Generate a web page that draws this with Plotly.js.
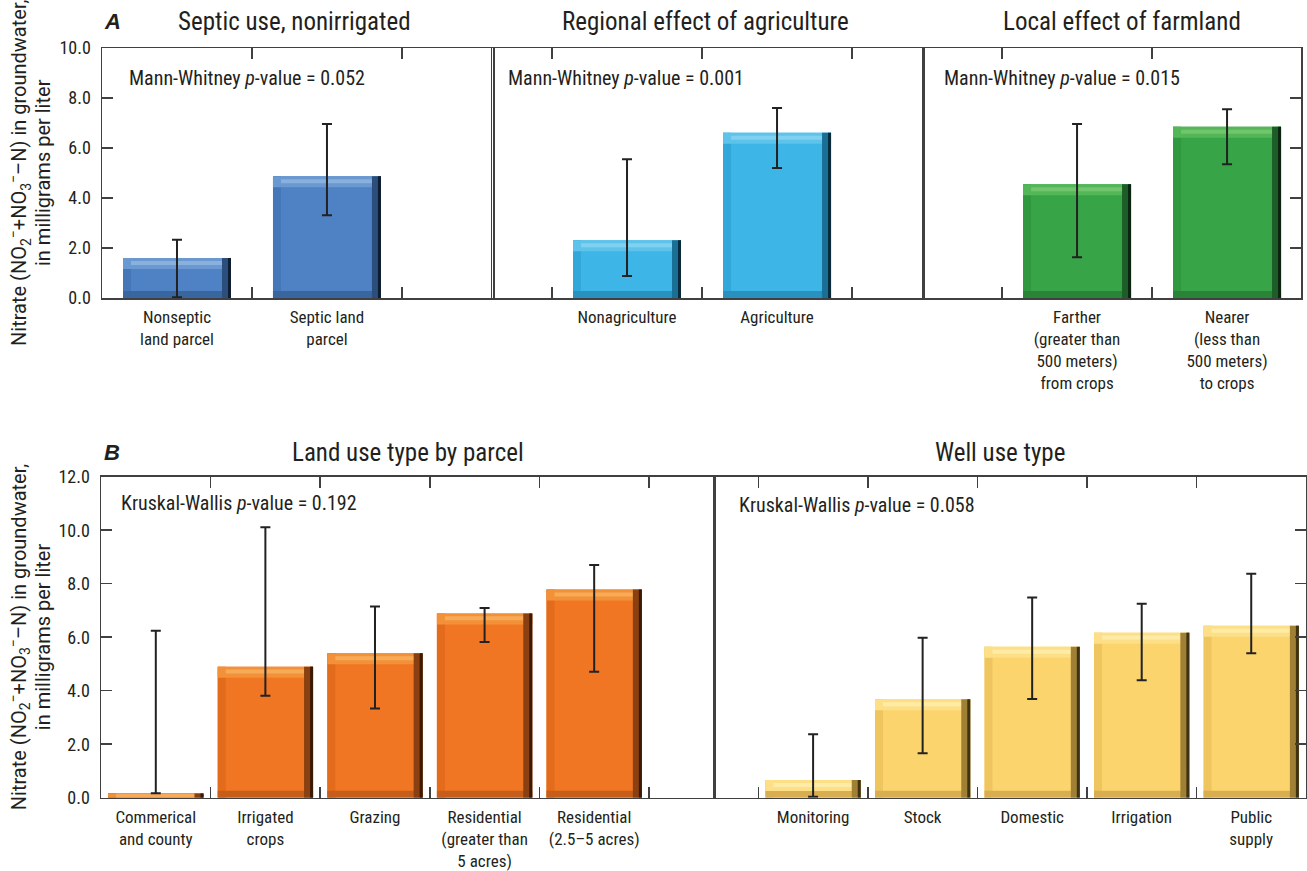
<!DOCTYPE html>
<html>
<head>
<meta charset="utf-8">
<script src="https://cdn.plot.ly/plotly-3.0.1.min.js"></script>
<style>html,body{margin:0;padding:0;background:#fff;}#chart{width:1307px;height:871px;}</style>
</head>
<body>
<div id="chart"></div>
<script>
// ---------------- DATA ----------------
const catsA1 = ["Nonseptic<br>land parcel", "Septic land<br>parcel"];
const valsA1 = [1.60, 4.87];
const lowA1  = [0.03, 3.31];
const highA1 = [2.33, 6.96];

const catsA2 = ["Nonagriculture", "Agriculture"];
const valsA2 = [2.31, 6.61];
const lowA2  = [0.88, 5.20];
const highA2 = [5.55, 7.60];

const catsA3 = ["Farther<br>(greater than<br>500 meters)<br>from crops", "Nearer<br>(less than<br>500 meters)<br>to crops"];
const valsA3 = [4.55, 6.85];
const lowA3  = [1.63, 5.35];
const highA3 = [6.96, 7.55];

const catsB1 = ["Commerical<br>and county", "Irrigated<br>crops", "Grazing", "Residential<br>(greater than<br>5 acres)", "Residential<br>(2.5–5 acres)"];
const valsB1 = [0.16, 4.90, 5.40, 6.89, 7.78];
const lowB1  = [0.17, 3.81, 3.33, 5.82, 4.71];
const highB1 = [6.24, 10.11, 7.15, 7.09, 8.70];

const catsB2 = ["Monitoring", "Stock", "Domestic", "Irrigation", "Public<br>supply"];
const valsB2 = [0.66, 3.68, 5.64, 6.17, 6.43];
const lowB2  = [0.04, 1.66, 3.69, 4.39, 5.40];
const highB2 = [2.37, 5.98, 7.48, 7.25, 8.37];

const titlesA = ["Septic use, nonirrigated", "Regional effect of agriculture", "Local effect of farmland"];
const titlesB = ["Land use type by parcel", "Well use type"];
const statsA = ["Mann-Whitney <i>p</i>-value = 0.052", "Mann-Whitney <i>p</i>-value = 0.001", "Mann-Whitney <i>p</i>-value = 0.015"];
const statsB = ["Kruskal-Wallis <i>p</i>-value = 0.192", "Kruskal-Wallis <i>p</i>-value = 0.058"];
const yTitle1 = "Nitrate (NO<sub>2</sub><sup>−</sup>+NO<sub>3</sub><sup>−</sup>–N) in groundwater,";
const yTitle2 = "in milligrams per liter";

// ---------------- STYLE ----------------
const W = 1307, H = 871;
const FONT = "'Liberation Sans Narrow', 'Roboto Condensed', Roboto, sans-serif";
const YFONT = "Roboto, 'Liberation Sans', sans-serif";
const TXT = "#231f20";
const LINE = "#404040";

const palettes = {
  blue:   {main:'#4f82c4', light:'#6a98d1', lighter:'#8ab0dd', left:'#4577b8', bottom:'#3a669f', dark:'#2b4e7c', darker:'#0f1d30'},
  sky:    {main:'#3db5e6', light:'#5ec3ea', lighter:'#80d0ef', left:'#31a7da', bottom:'#2991bf', dark:'#1a6f96', darker:'#0a2a3a'},
  green:  {main:'#37a547', light:'#53b758', lighter:'#70c56d', left:'#30983f', bottom:'#2a8437', dark:'#1d5d27', darker:'#0b2410'},
  orange: {main:'#f07623', light:'#f39139', lighter:'#f7ab58', left:'#e36b1c', bottom:'#c65e19', dark:'#8a4010', darker:'#3a1a05'},
  yellow: {main:'#fcd46e', light:'#fddf88', lighter:'#feeba6', left:'#efc55f', bottom:'#d8ae50', dark:'#a08034', darker:'#3f3212'}
};

// panel geometry in pixels
const panels = [
  {key:'A1', cats:catsA1, vals:valsA1, low:lowA1, high:highA1, pal:'blue',   x0:102,   x1:493,   xr:[-0.5, 2.107],  yt:48,    yb:298,   yr:[0,10], bw:0.72},
  {key:'A2', cats:catsA2, vals:valsA2, low:lowA2, high:highA2, pal:'sky',    x0:492,   x1:923,   xr:[-0.9, 1.973],  yt:48,    yb:298,   yr:[0,10], bw:0.72},
  {key:'A3', cats:catsA3, vals:valsA3, low:lowA3, high:highA3, pal:'green',  x0:923,   x1:1301,  xr:[-1.027, 1.493],yt:48,    yb:298,   yr:[0,10], bw:0.72},
  {key:'B1', cats:catsB1, vals:valsB1, low:lowB1, high:highB1, pal:'orange', x0:101,   x1:714.3, xr:[-0.5, 5.096],  yt:476.7, yb:797.7, yr:[0,12], bw:0.87},
  {key:'B2', cats:catsB2, vals:valsB2, low:lowB2, high:highB2, pal:'yellow', x0:714.3, x1:1306,  xr:[-0.902, 4.5],  yt:476.7, yb:797.7, yr:[0,12], bw:0.87}
];

const BEV = {top:11, band:4, left:8, bottom:7, right:9, rightOuter:3};

const traces = [];
const layout = {
  width:W, height:H,
  margin:{l:0, r:0, t:0, b:0},
  paper_bgcolor:'#ffffff', plot_bgcolor:'rgba(0,0,0,0)',
  barmode:'overlay', showlegend:false,
  font:{family:FONT, color:TXT, size:17},
  annotations:[]
};

function barTrace(xa, ya, cats, base, heights, width, offset, color) {
  return {type:'bar', x:cats, y:heights, base:base, width:width, offset:offset,
          marker:{color:color, line:{width:0}}, xaxis:xa, yaxis:ya,
          hoverinfo:'skip', showlegend:false};
}

panels.forEach((p, i) => {
  const n = i + 1;
  const xa = 'x' + (n === 1 ? '' : n), ya = 'y' + (n === 1 ? '' : n);
  const xk = 'xaxis' + (n === 1 ? '' : n), yk = 'yaxis' + (n === 1 ? '' : n);
  const ux = (p.xr[1] - p.xr[0]) / (p.x1 - p.x0);   // data units per px (x)
  const uy = (p.yr[1] - p.yr[0]) / (p.yb - p.yt);   // data units per px (y)
  const c = palettes[p.pal];
  const w = p.bw, h = w / 2;
  const zeros = p.vals.map(() => 0);

  traces.push(barTrace(xa, ya, p.cats, zeros, p.vals, w, -h, c.main));
  traces.push(barTrace(xa, ya, p.cats, zeros, p.vals, BEV.left * ux, -h, c.left));
  traces.push(barTrace(xa, ya, p.cats, zeros, p.vals.map(v => Math.min(v, BEV.bottom * uy)), w, -h, c.bottom));
  const tH = p.vals.map(v => Math.min(v, BEV.top * uy));
  traces.push(barTrace(xa, ya, p.cats, p.vals.map((v, k) => v - tH[k]), tH, w, -h, c.light));
  const bH = p.vals.map(v => Math.min(v, BEV.band * uy));
  traces.push(barTrace(xa, ya, p.cats, p.vals.map((v, k) => Math.max(0, v - 0.45 * BEV.top * uy - bH[k] / 2)), bH, w - 2 * BEV.left * ux, -h + BEV.left * ux, c.lighter));
  traces.push(barTrace(xa, ya, p.cats, zeros, p.vals, BEV.right * ux, h - BEV.right * ux, c.dark));
  traces.push(barTrace(xa, ya, p.cats, zeros, p.vals, BEV.rightOuter * ux, h - BEV.rightOuter * ux, c.darker));
  traces.push({type:'scatter', mode:'markers', x:p.cats, y:p.vals, xaxis:xa, yaxis:ya,
    marker:{size:1, color:'rgba(0,0,0,0)'}, hoverinfo:'skip', showlegend:false,
    error_y:{type:'data', symmetric:false,
      array:p.high.map((v, k) => v - p.vals[k]),
      arrayminus:p.vals.map((v, k) => v - p.low[k]),
      color:'#222222', thickness:2, width:5}});

  layout[xk] = {
    type:'category', domain:[p.x0 / W, p.x1 / W], anchor:ya, range:p.xr,
    tickson:'boundaries', ticks:'inside', ticklen:11, tickwidth:1.5, tickcolor:LINE,
    showline:true, linecolor:LINE, linewidth:1.5, mirror:'ticks', tickangle:0,
    showgrid:false, zeroline:false, automargin:false, fixedrange:true,
    tickfont:{size:17, color:TXT}, ticklabelstandoff:3
  };
  const first = (p.key === 'A1' || p.key === 'B1');
  const last = (p.key === 'A3' || p.key === 'B2');
  layout[yk] = {
    domain:[1 - p.yb / H, 1 - p.yt / H], anchor:xa, range:p.yr,
    tick0:0, dtick:2, tickformat:'.1f',
    ticks:(first || last) ? 'inside' : '', ticklen:11, tickwidth:1.5, tickcolor:LINE,
    showticklabels:first, side:last ? 'right' : 'left',
    showline:true, linecolor:LINE, linewidth:1.5, mirror:true,
    showgrid:false, zeroline:false, automargin:false, fixedrange:true,
    tickfont:{size:18, color:TXT}, ticklabelstandoff:6
  };
  if (first) {
    const yc = 1 - ((p.yt + p.yb) / 2) / H;
    layout.annotations.push({text:yTitle1, x:19 / W, y:yc, xref:'paper', yref:'paper', textangle:-90,
      xanchor:'center', yanchor:'middle', showarrow:false, font:{family:YFONT, size:20, color:TXT}});
    layout.annotations.push({text:yTitle2, x:43 / W, y:yc, xref:'paper', yref:'paper', textangle:-90,
      xanchor:'center', yanchor:'middle', showarrow:false, font:{family:YFONT, size:20, color:TXT}});
  }
});

const titleDefs = [
  {t:titlesA[0], x:294, y:22}, {t:titlesA[1], x:705, y:22}, {t:titlesA[2], x:1122, y:22},
  {t:titlesB[0], x:408, y:452}, {t:titlesB[1], x:1000, y:452}
];
titleDefs.forEach(d => layout.annotations.push({text:d.t, x:d.x / W, y:1 - d.y / H, xref:'paper', yref:'paper',
  xanchor:'center', yanchor:'middle', showarrow:false, font:{size:25, color:TXT}}));

[{t:'<b><i>A</i></b>', x:102, y:22}, {t:'<b><i>B</i></b>', x:102, y:452}].forEach(d =>
  layout.annotations.push({text:d.t, x:d.x / W, y:1 - d.y / H, xref:'paper', yref:'paper',
    xanchor:'left', yanchor:'middle', showarrow:false, font:{family:"'Liberation Sans', Arial, sans-serif", size:22, color:TXT}}));

const statDefs = [
  {t:statsA[0], x:127, y:78}, {t:statsA[1], x:506, y:78}, {t:statsA[2], x:942, y:78},
  {t:statsB[0], x:119, y:503}, {t:statsB[1], x:737, y:505}
];
statDefs.forEach(d => layout.annotations.push({text:d.t, x:d.x / W, y:1 - d.y / H, xref:'paper', yref:'paper',
  xanchor:'left', yanchor:'middle', showarrow:false, font:{size:20, color:TXT}}));

Plotly.newPlot('chart', traces, layout, {staticPlot:true, displayModeBar:false});
</script>
</body>
</html>
